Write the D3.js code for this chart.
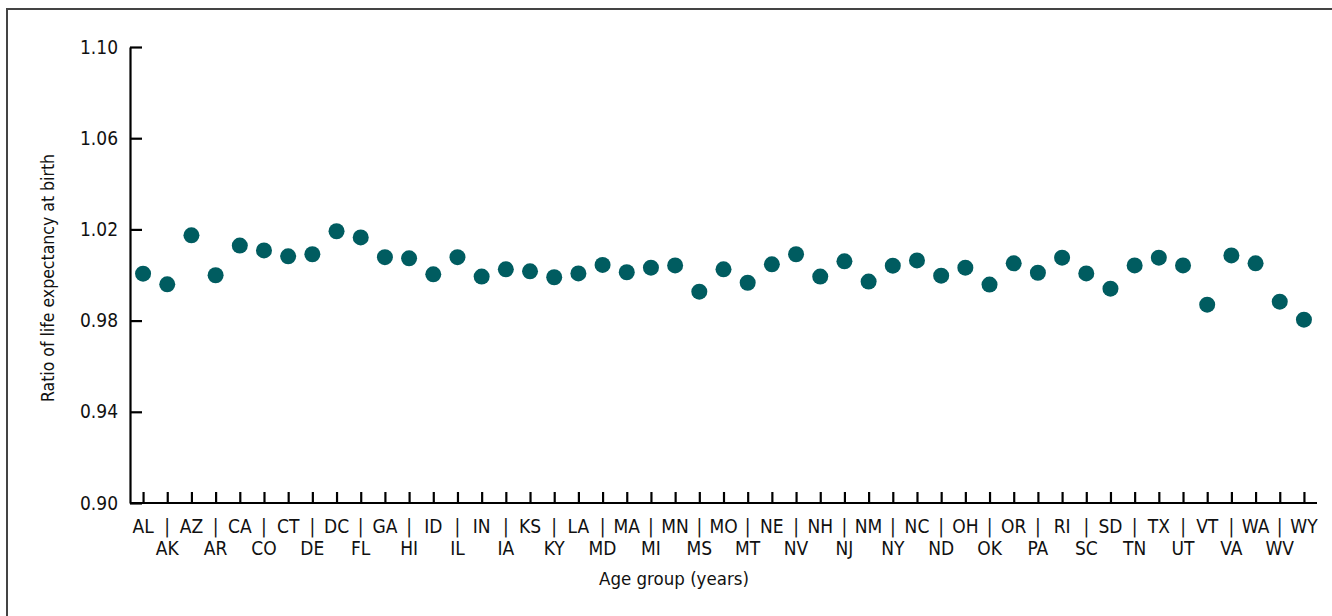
<!DOCTYPE html>
<html>
<head>
<meta charset="utf-8">
<script src="https://cdn.jsdelivr.net/npm/d3@7"></script>
<style>
  body { margin: 0; background: #fff; }
  svg text { font-family: "Liberation Sans Narrow", "Arial Narrow", "DejaVu Sans Condensed", sans-serif; fill: #111; }
</style>
</head>
<body>
<svg id="chart"></svg>
<script>
var width = 1332, height = 616
var dotColor = "#005c60"

// state codes in the order they appear along the x axis
const states = ["AL","AK","AZ","AR","CA","CO","CT","DE","DC","FL","GA","HI","ID","IL","IN","IA","KS","KY",
    "LA","MD","MA","MI","MN","MS","MO","MT","NE","NV","NH","NJ","NM","NY","NC","ND","OH","OK","OR","PA",
    "RI","SC","SD","TN","TX","UT","VT","VA","WA","WV","WY"]

// ratio of life expectancy at birth
const ratios = [1.0006,0.9959,1.0174,0.9999,1.0129,1.0108,1.0082,1.0091,1.0192,1.0165,1.0078,1.0073,1.0003,
    1.0078,0.9993,1.0025,1.0016,0.9990,1.0007,1.0044,1.0012,1.0032,1.0042,0.9927,1.0025,0.9966,1.0047,1.0091,
    0.9993,1.0060,0.9971,1.0041,1.0064,0.9997,1.0032,0.9958,1.0051,1.0010,1.0076,1.0007,0.9940,1.0042,1.0076,
    1.0042,0.9870,1.0086,1.0051,0.9883,0.9804]

const yTicks = [0.90, 0.94, 0.98, 1.02, 1.06, 1.10]

var data = states.map((s, i) => ({state: s, value: ratios[i], idx: i}))

var svg = d3.select("#chart").attr("width", width).attr("height", height)

// frame (only top and left edges are visible)
svg.append("path")
    .attr("d", "M7," + (height + 5) + "V9H" + (width + 5))
    .attr("fill", "none")
    .attr("stroke", "#444")
    .attr("stroke-width", 2)

var x = d3.scalePoint().domain(states).range([130, 1317]).padding(0.54)
var y = d3.scaleLinear().domain([0.90, 1.10]).range([503, 47])

// y axis
var yAxis = svg.append("g")
    .attr("transform", "translate(130,0)")
    .call(d3.axisLeft(y).tickValues(yTicks).tickFormat(d3.format(".2f"))
        .tickSizeInner(-12).tickSizeOuter(0).tickPadding(12))
yAxis.select(".domain").attr("stroke", "#000").attr("stroke-width", 2.2)
yAxis.selectAll(".tick line").attr("stroke", "#000").attr("stroke-width", 2.2)
yAxis.selectAll(".tick text").style("font-size", "19px").attr("fill", "#111")

// x axis: ticks point up, labels drawn below in two rows
var xAxis = svg.append("g")
    .attr("transform", "translate(0,503)")
    .call(d3.axisBottom(x).tickFormat("").tickSizeInner(-11).tickSizeOuter(0))
xAxis.select(".domain").attr("d", "M130,0H1317").attr("stroke", "#000").attr("stroke-width", 2.2)
xAxis.selectAll(".tick line").attr("stroke", "#000").attr("stroke-width", 2.2)

// top row: even states with "|" separators at the odd positions
svg.append("g")
    .selectAll("text")
    .data(data)
    .enter()
    .append("text")
    .attr("x", d => x(d.state))
    .attr("y", 533)
    .attr("text-anchor", "middle")
    .style("font-size", "19px")
    .text(d => d.idx % 2 == 0 ? d.state : "|")

// bottom row: odd states
svg.append("g")
    .selectAll("text")
    .data(data.filter(d => d.idx % 2 == 1))
    .enter()
    .append("text")
    .attr("x", d => x(d.state))
    .attr("y", 555)
    .attr("text-anchor", "middle")
    .style("font-size", "19px")
    .text(d => d.state)

// axis titles
svg.append("text")
    .attr("x", 674)
    .attr("y", 585)
    .attr("text-anchor", "middle")
    .style("font-size", "18.5px")
    .text("Age group (years)")

svg.append("text")
    .attr("transform", "translate(54,278) rotate(-90)")
    .attr("text-anchor", "middle")
    .style("font-size", "17.5px")
    .text("Ratio of life expectancy at birth")

// dots
svg.append("g")
    .selectAll("circle")
    .data(data)
    .enter()
    .append("circle")
    .attr("cx", d => x(d.state))
    .attr("cy", d => y(d.value))
    .attr("r", 8)
    .attr("fill", dotColor)
</script>
</body>
</html>
